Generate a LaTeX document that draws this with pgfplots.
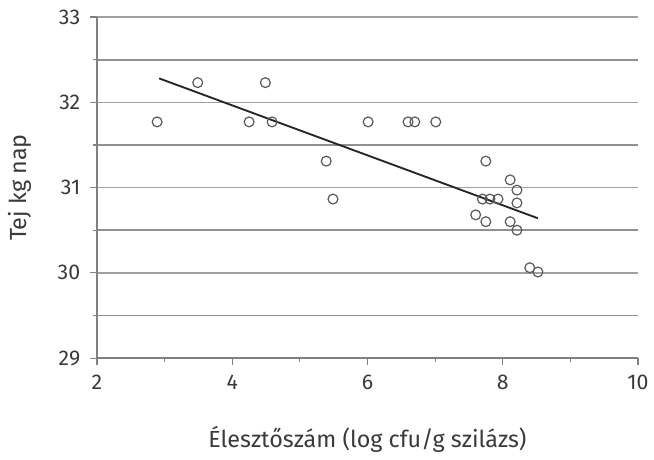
\documentclass[border=0pt]{standalone}
\usepackage{fontspec}
\setmainfont{Fira Sans}
\usepackage{pgfplots}
\pgfplotsset{compat=1.18}
\definecolor{txt}{HTML}{3A3A3A}
\definecolor{gridc}{HTML}{A0A0A0}
\definecolor{axc}{HTML}{808080}
\begin{document}
\begin{tikzpicture}
\begin{axis}[
  scale only axis,
  width=406pt, height=256pt,
  xmin=2, xmax=10, ymin=29, ymax=33,
  axis lines*=left,
  axis line style={axc, line width=1.3pt},
  xtick={2,4,6,8,10},
  minor x tick num=1,
  ytick={29,30,31,32,33},
  minor y tick num=1,
  tick align=outside,
  major tick length=5pt,
  minor tick length=3pt,
  tick style={axc, line width=0.9pt},
  ymajorgrids, yminorgrids,
  grid style={gridc, line width=1.1pt},
  minor grid style={gridc!90!black, line width=1.4pt},
  ticklabel style={font=\fontsize{16}{18}\selectfont, text=txt},
  yticklabel style={xshift=-4pt},
  xticklabel style={yshift=-4pt},
  /pgf/number format/assume math mode=true,
  xlabel={Élesztőszám (log cfu/g szilázs)},
  ylabel={Tej kg nap},
  label style={font=\fontsize{17.5}{20}\selectfont, text=txt},
  xlabel style={yshift=-21pt},
  ylabel style={yshift=13pt},
  clip=false,
]
\addplot[only marks, mark=o, mark size=3.7pt, mark options={draw=black!65, line width=0.9pt}]
coordinates {
(2.89,31.77) (3.49,32.23) (4.25,31.77) (4.49,32.23) (4.59,31.77)
(5.39,31.31) (5.49,30.865) (6.01,31.77) (6.60,31.77) (6.70,31.77)
(7.01,31.77) (7.75,31.31) (8.11,31.09) (8.21,30.97) (7.70,30.865)
(7.81,30.865) (7.93,30.865) (8.21,30.82) (7.60,30.68) (7.75,30.60)
(8.11,30.60) (8.21,30.50) (8.40,30.06) (8.52,30.01)
};
\addplot[black!85, line width=1.4pt] coordinates {(2.92,32.28) (8.52,30.64)};
\end{axis}
\pgfresetboundingbox
\path[use as bounding box] (-72.75pt,-75.75pt) rectangle (418pt,268.75pt);
\end{tikzpicture}
\end{document}
